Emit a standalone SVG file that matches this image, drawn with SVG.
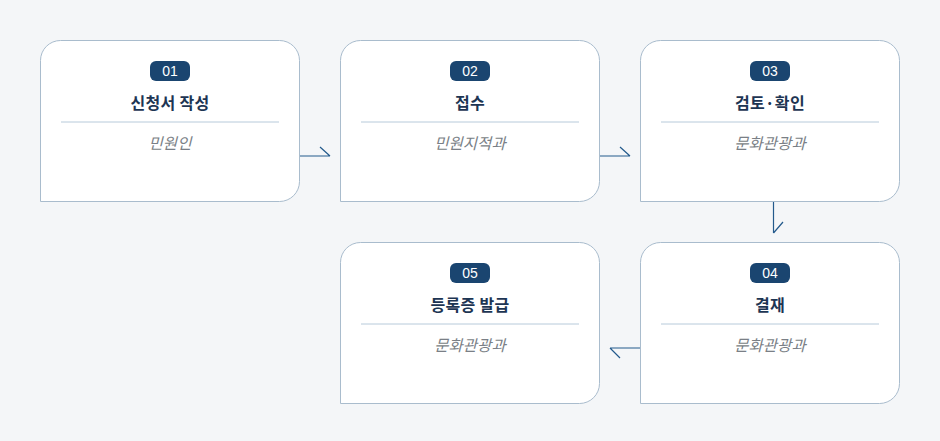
<svg xmlns="http://www.w3.org/2000/svg" width="940" height="441" viewBox="0 0 940 441">
<defs>
<style>
.card{fill:#ffffff;stroke:#a9bccd;stroke-width:1}
.badge{fill:#1a4570}
.num{fill:#ffffff;font-family:"Liberation Sans","Noto Sans CJK KR",sans-serif;font-size:14px;text-anchor:middle}
.title{fill:#1d3553;font-family:"Noto Sans CJK KR",sans-serif;font-size:16px;font-weight:bold;text-anchor:middle;letter-spacing:0.3px}
.div{stroke:#b7cada;stroke-width:1}
.sub{fill:#7a7f86;font-family:"Noto Sans CJK KR",sans-serif;font-size:15.5px;font-style:italic;text-anchor:middle}
.conn{fill:none;stroke:#235a8c;stroke-width:1.2}
</style>
<path id="cardShape" d="M0,161 V20 A20,20 0 0 1 20,0 H239 A20,20 0 0 1 259,20 V141 A20,20 0 0 1 239,161 Z"/>
</defs>
<rect width="940" height="441" fill="#f4f6f8"/>
<g id="connectors">
<path class="conn" d="M300,156 H330 M320,147 L330,156"/>
<path class="conn" d="M600,156 H630 M620,147 L630,156"/>
<path class="conn" d="M773.5,201 V233 M783,222 L773.5,233"/>
<path class="conn" d="M640,348 H610 M620,358 L610,348"/>
</g>
<g id="node1" transform="translate(40.5,40.5)">
<use href="#cardShape" class="card"/>
<rect class="badge" x="109.5" y="20.5" width="40" height="20" rx="6"/>
<text class="num" x="129.5" y="35.5">01</text>
<text class="title" x="129.5" y="68">신청서 작성</text>
<line class="div" x1="20.5" y1="81.5" x2="238.5" y2="81.5"/>
<text class="sub" x="129.5" y="108">민원인</text>
</g>
<g id="node2" transform="translate(340.5,40.5)">
<use href="#cardShape" class="card"/>
<rect class="badge" x="109.5" y="20.5" width="40" height="20" rx="6"/>
<text class="num" x="129.5" y="35.5">02</text>
<text class="title" x="129.5" y="68">접수</text>
<line class="div" x1="20.5" y1="81.5" x2="238.5" y2="81.5"/>
<text class="sub" x="129.5" y="108">민원지적과</text>
</g>
<g id="node3" transform="translate(640.5,40.5)">
<use href="#cardShape" class="card"/>
<rect class="badge" x="109.5" y="20.5" width="40" height="20" rx="6"/>
<text class="num" x="129.5" y="35.5">03</text>
<text class="title" x="129.5" y="68">검토·확인</text>
<line class="div" x1="20.5" y1="81.5" x2="238.5" y2="81.5"/>
<text class="sub" x="129.5" y="108">문화관광과</text>
</g>
<g id="node4" transform="translate(640.5,242.5)">
<use href="#cardShape" class="card"/>
<rect class="badge" x="109.5" y="20.5" width="40" height="20" rx="6"/>
<text class="num" x="129.5" y="35.5">04</text>
<text class="title" x="129.5" y="68">결재</text>
<line class="div" x1="20.5" y1="81.5" x2="238.5" y2="81.5"/>
<text class="sub" x="129.5" y="108">문화관광과</text>
</g>
<g id="node5" transform="translate(340.5,242.5)">
<use href="#cardShape" class="card"/>
<rect class="badge" x="109.5" y="20.5" width="40" height="20" rx="6"/>
<text class="num" x="129.5" y="35.5">05</text>
<text class="title" x="129.5" y="68">등록증 발급</text>
<line class="div" x1="20.5" y1="81.5" x2="238.5" y2="81.5"/>
<text class="sub" x="129.5" y="108">문화관광과</text>
</g>
</svg>
